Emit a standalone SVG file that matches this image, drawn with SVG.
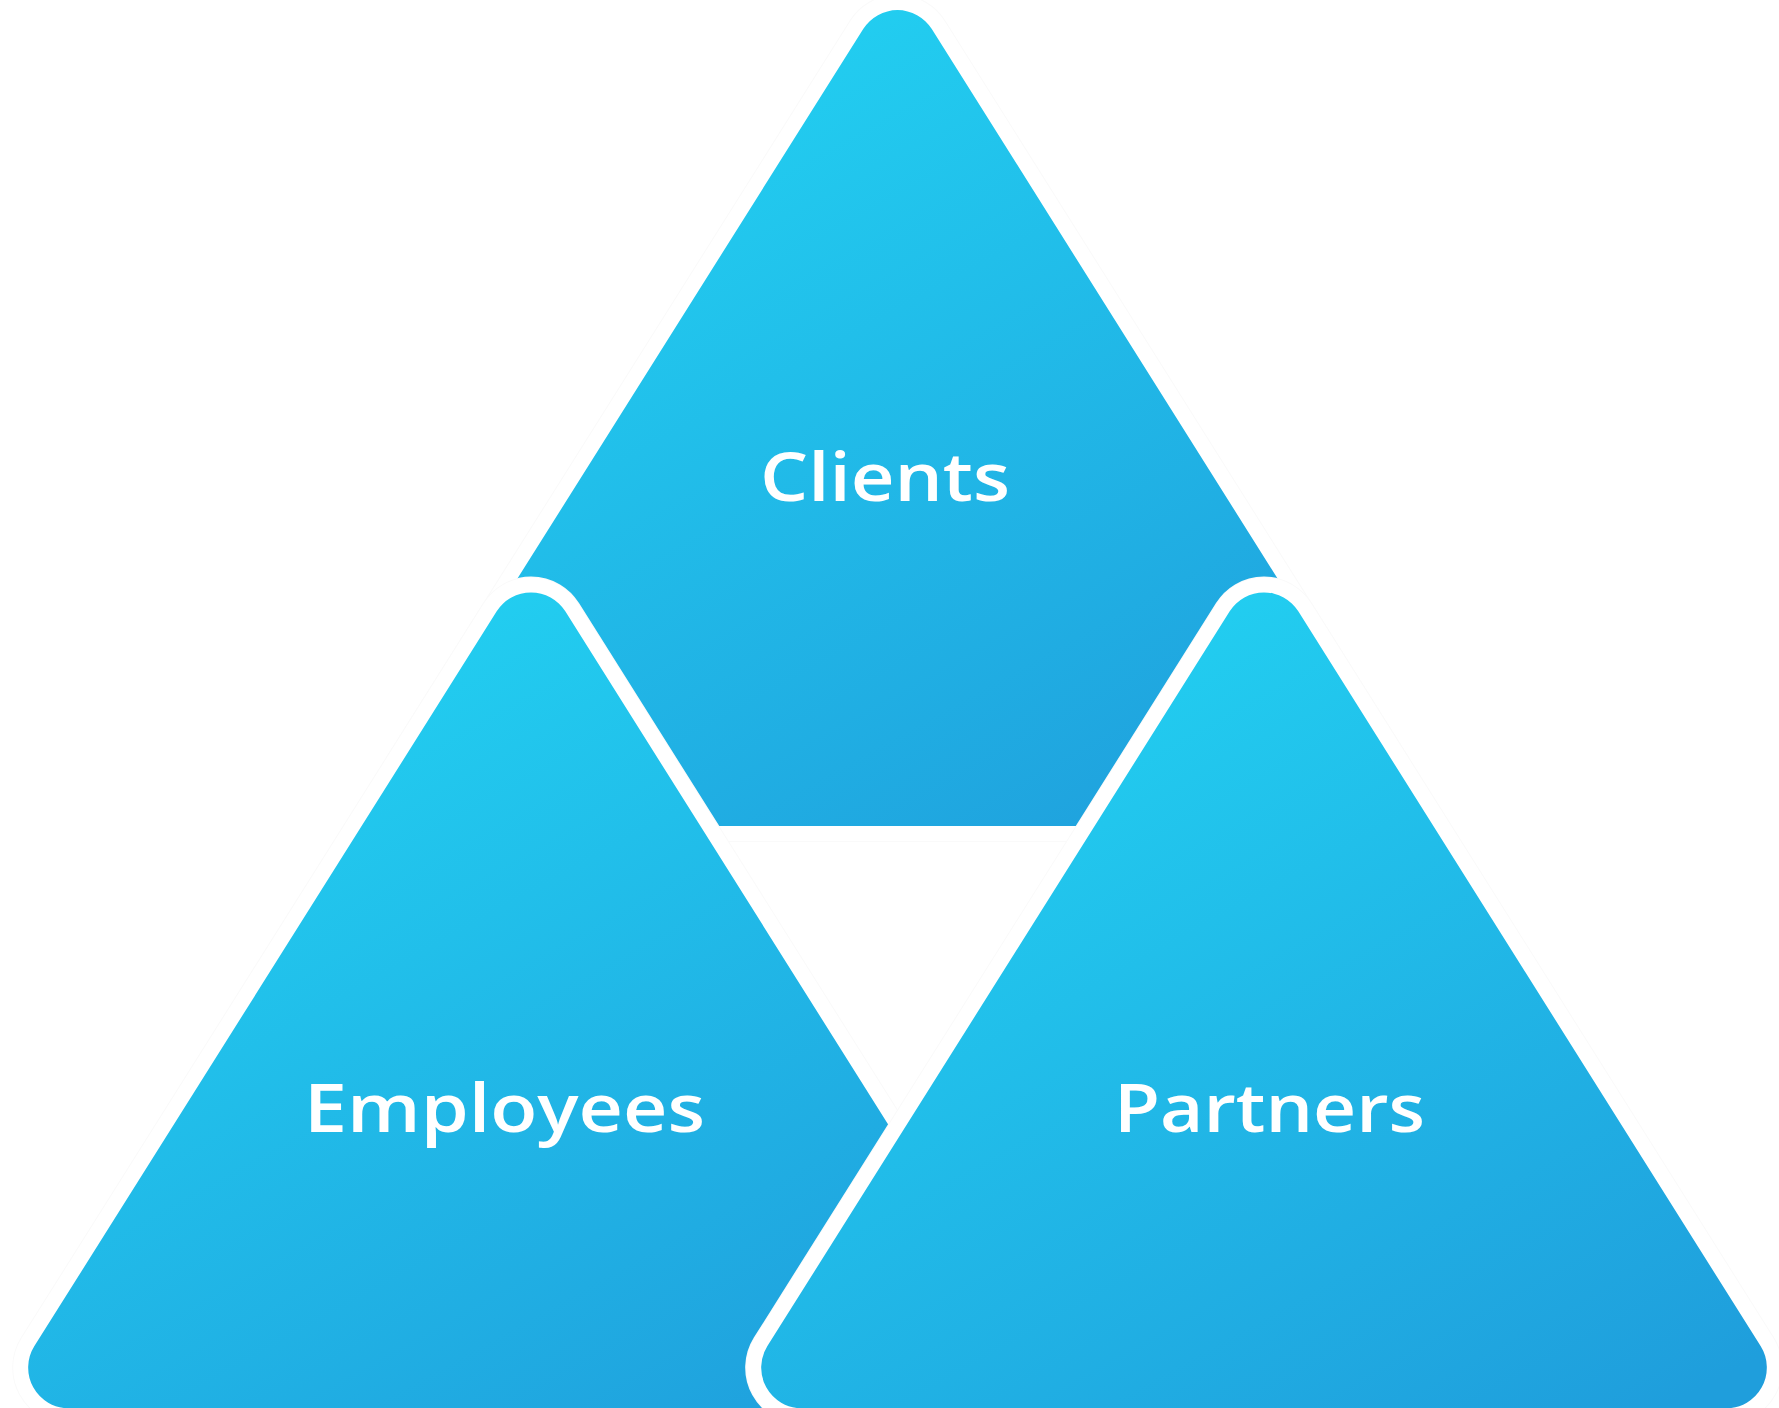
<svg xmlns="http://www.w3.org/2000/svg" width="1779" height="1408" viewBox="0 0 1779 1408">
<style>
.ring{fill:none;stroke:#fafafa;stroke-width:32;stroke-linejoin:round}
.tri{fill:url(#g);stroke:#ffffff;stroke-width:30;stroke-linejoin:round;paint-order:stroke}
.lbl{fill:#ffffff;font-family:"Open Sans","DejaVu Sans","Liberation Sans",sans-serif;font-weight:600;font-size:67px}
</style>
<defs>
<linearGradient id="g" x1="0.3" y1="0.12" x2="0.9" y2="1">
<stop offset="0" stop-color="#22CDF0"/>
<stop offset="1" stop-color="#1F9EDC"/>
</linearGradient>
<path id="t" d="M34.3,54.6 L496.6,789.4 A40.6,40.6 0 0 1 462.2,851.6 L-462.2,851.6 A40.6,40.6 0 0 1 -496.6,789.4 L-34.3,54.6 A40.6,40.6 0 0 1 34.3,54.6 Z"/>
</defs>
<rect width="1779" height="1408" fill="#ffffff"/>
<g id="clients">
<use href="#t" class="ring" transform="translate(897.5,-25.6)"/>
<use href="#t" class="tri" transform="translate(897.5,-25.6)"/>
<text class="lbl" x="760" y="501" textLength="250" lengthAdjust="spacingAndGlyphs">Clients</text>
</g>
<g id="employees">
<use href="#t" class="ring" transform="translate(531,556.7)"/>
<use href="#t" class="tri" transform="translate(531,556.7)"/>
<text class="lbl" x="304" y="1132" textLength="401" lengthAdjust="spacingAndGlyphs">Employees</text>
</g>
<g id="partners">
<use href="#t" class="ring" transform="translate(1264,556.7)"/>
<use href="#t" class="tri" transform="translate(1264,556.7)"/>
<text class="lbl" x="1114" y="1132" textLength="311" lengthAdjust="spacingAndGlyphs">Partners</text>
</g>
<g id="connectors"/>
</svg>
